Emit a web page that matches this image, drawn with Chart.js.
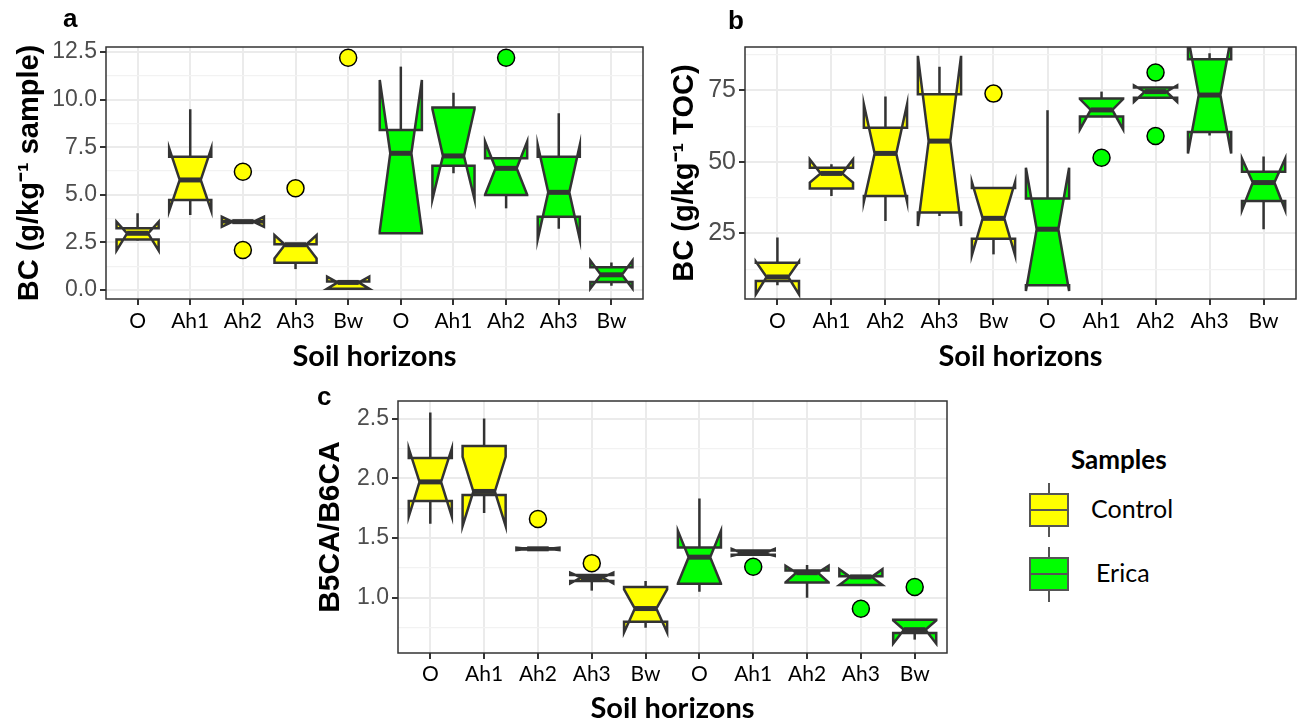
<!DOCTYPE html>
<html>
<head>
<meta charset="utf-8">
<script src="https://cdn.jsdelivr.net/npm/chart.js@4.4.1/dist/chart.umd.min.js"></script>
<style>
  body { margin: 0; background: #fff; }
  #wrap { position: relative; width: 1306px; height: 726px; overflow: hidden; background: #fff; }
  canvas { position: absolute; }
  .plab { position: absolute; font-family: "Liberation Sans", Arial, sans-serif; font-weight: bold; font-size: 26px; line-height: 26px; color: #000; }
  .leg { position: absolute; font-family: Lato, "Open Sans", sans-serif; color: #000; }
  .key { position: absolute; width: 40px; height: 34px; box-sizing: border-box; border: 2px solid #555; }
  .kw { position: absolute; width: 2px; background: #555; }
  .km { position: absolute; width: 40px; height: 2px; background: #555; }
</style>
</head>
<body>
<div id="wrap">
  <canvas id="ca" width="660" height="380" style="left:0px;top:0px;width:660px;height:380px"></canvas>
  <canvas id="cb" width="656" height="380" style="left:650px;top:0px;width:656px;height:380px"></canvas>
  <canvas id="cc" width="660" height="351" style="left:300px;top:375px;width:660px;height:351px"></canvas>

  <div class="plab" style="left:63px;top:5px">a</div>
  <div class="plab" style="left:728px;top:7px">b</div>
  <div class="plab" style="left:317px;top:383px">c</div>

  <div class="leg" style="left:1071px;top:443px;font-size:26px;font-weight:bold">Samples</div>
  <div class="kw" style="left:1048px;top:483px;height:54px"></div>
  <div class="key" style="left:1029px;top:493px;background:#ffff00"></div>
  <div class="km" style="left:1029px;top:509px"></div>
  <div class="leg" style="left:1091px;top:493px;font-size:25px">Control</div>
  <div class="kw" style="left:1048px;top:547px;height:55px"></div>
  <div class="key" style="left:1029px;top:557px;background:#00ff00"></div>
  <div class="km" style="left:1029px;top:573px"></div>
  <div class="leg" style="left:1096px;top:557px;font-size:25px">Erica</div>
</div>

<script>
// ---------- categories ----------
const horizons = ['O', 'Ah1', 'Ah2', 'Ah3', 'Bw'];
const groups = ['Control', 'Erica'];
const xLabels = horizons.concat(horizons);        // Control O..Bw, Erica O..Bw
const groupOfBox = [0, 0, 0, 0, 0, 1, 1, 1, 1, 1];

// ---------- panel a : BC (g/kg sample) ----------
const aWhiskerLow  = [2.60, 3.94, 3.56, 1.10, 0.07, 2.98, 6.13, 4.29, 3.22, 0.22];
const aHingeLow    = [2.66, 4.73, 3.56, 1.43, 0.07, 2.98, 6.53, 4.99, 3.85, 0.42];
const aMedian      = [2.98, 5.78, 3.59, 2.38, 0.40, 7.18, 7.04, 6.39, 5.13, 0.80];
const aHingeHigh   = [3.24, 7.00, 3.62, 2.40, 0.45, 8.40, 9.58, 6.92, 7.00, 1.20];
const aWhiskerHigh = [4.03, 9.49, 3.62, 2.40, 0.45, 11.73, 10.36, 6.92, 9.28, 1.45];
const aNotchLow    = [2.07, 4.15, 3.32, 1.66, 0.07, 3.10, 4.76, 5.00, 2.66, 0.08];
const aNotchHigh   = [3.59, 7.44, 3.85, 2.89, 0.70, 11.03, 9.50, 7.79, 7.62, 1.55];
const aOutlierBox  = [2, 2, 3, 4, 7];
const aOutlierVal  = [6.21, 2.10, 5.34, 12.2, 12.2];
const aTicks = [0, 2.5, 5, 7.5, 10, 12.5];

// ---------- panel b : BC (g/kg TOC) ----------
const bWhiskerLow  = [6.9, 38.1, 29.4, 31.1, 17.7, 6.9, 65.9, 72.5, 59.3, 26.5];
const bHingeLow    = [8.4, 40.7, 38.1, 32.3, 23.2, 6.9, 65.9, 72.5, 60.5, 36.4];
const bMedian      = [9.8, 46.0, 53.0, 57.3, 30.3, 26.5, 68.2, 74.6, 73.4, 42.8];
const bHingeHigh   = [14.8, 48.0, 62.0, 73.7, 40.9, 37.2, 72.2, 76.0, 85.9, 46.6];
const bWhiskerHigh = [23.6, 49.2, 72.9, 83.3, 40.9, 68.1, 74.6, 76.0, 88.0, 51.9];
const bNotchLow    = [3.7, 42.8, 36.1, 27.6, 17.4, 4.9, 61.4, 71.0, 53.0, 33.2];
const bNotchHigh   = [15.2, 50.9, 70.2, 87.1, 43.0, 48.0, 72.0, 76.8, 93.8, 51.2];
const bOutlierBox  = [4, 6, 7, 7];
const bOutlierVal  = [73.9, 51.5, 81.3, 59.1];
const bTicks = [25, 50, 75];

// ---------- panel c : B5CA/B6CA ----------
const cWhiskerLow  = [1.62, 1.71, 1.405, 1.06, 0.75, 1.05, 1.36, 1.00, 1.108, 0.65];
const cHingeLow    = [1.81, 1.86, 1.405, 1.14, 0.80, 1.117, 1.36, 1.128, 1.108, 0.705];
const cMedian      = [1.97, 1.89, 1.41, 1.17, 0.91, 1.34, 1.373, 1.21, 1.175, 0.733];
const cHingeHigh   = [2.17, 2.27, 1.415, 1.19, 1.09, 1.42, 1.395, 1.228, 1.18, 0.816];
const cWhiskerHigh = [2.55, 2.50, 1.415, 1.19, 1.14, 1.83, 1.40, 1.275, 1.18, 0.816];
const cNotchLow    = [1.68, 1.60, 1.40, 1.12, 0.71, 1.12, 1.35, 1.13, 1.108, 0.616];
const cNotchHigh   = [2.25, 2.18, 1.42, 1.21, 1.07, 1.56, 1.41, 1.267, 1.24, 0.81];
const cOutlierBox  = [2, 3, 6, 8, 9];
const cOutlierVal  = [1.66, 1.29, 1.26, 0.908, 1.09];
const cTicks = [1.0, 1.5, 2.0, 2.5];

const groupColors = ['#ffff00', '#00ff00'];
const lineCol = '#333333';

function boxPlugin(st) {
  return {
    id: 'notchBoxes',
    beforeDatasetsDraw(chart) {
      const { ctx, chartArea: a, scales: { x, y } } = chart;
      ctx.save();
      ctx.beginPath();
      ctx.rect(a.left, a.top, a.right - a.left, a.bottom - a.top);
      ctx.clip();
      for (let i = 0; i < st.median.length; i++) {
        const cx = x.getPixelForValue(i);
        const hw = x.getPixelForValue(i + 0.4) - cx;
        const nw = hw * 0.5;
        const yWL = y.getPixelForValue(st.wl[i]), yHL = y.getPixelForValue(st.hl[i]);
        const yM = y.getPixelForValue(st.median[i]);
        const yHH = y.getPixelForValue(st.hh[i]), yWH = y.getPixelForValue(st.wh[i]);
        const yNL = y.getPixelForValue(st.nl[i]), yNH = y.getPixelForValue(st.nh[i]);
        ctx.strokeStyle = lineCol;
        ctx.lineWidth = 2.5;
        ctx.lineCap = 'butt';
        // whiskers
        ctx.beginPath();
        ctx.moveTo(cx, yHH); ctx.lineTo(cx, yWH);
        ctx.moveTo(cx, yHL); ctx.lineTo(cx, yWL);
        ctx.stroke();
        // notched box
        ctx.beginPath();
        ctx.moveTo(cx - hw, yHH);
        ctx.lineTo(cx - hw, yNH);
        ctx.lineTo(cx - nw, yM);
        ctx.lineTo(cx - hw, yNL);
        ctx.lineTo(cx - hw, yHL);
        ctx.lineTo(cx + hw, yHL);
        ctx.lineTo(cx + hw, yNL);
        ctx.lineTo(cx + nw, yM);
        ctx.lineTo(cx + hw, yNH);
        ctx.lineTo(cx + hw, yHH);
        ctx.closePath();
        ctx.fillStyle = groupColors[groupOfBox[i]];
        ctx.fill();
        ctx.lineJoin = 'miter';
        ctx.stroke();
        // median
        ctx.beginPath();
        ctx.lineWidth = 5;
        ctx.moveTo(cx - nw, yM); ctx.lineTo(cx + nw, yM);
        ctx.stroke();
      }
      ctx.restore();
    },
    afterDraw(chart) {
      const { ctx, chartArea: a } = chart;
      ctx.save();
      ctx.strokeStyle = '#333333';
      ctx.lineWidth = 1.5;
      ctx.strokeRect(a.left, a.top, a.right - a.left, a.bottom - a.top);
      ctx.restore();
    }
  };
}

function makePanel(id, st, P) {
  const majorStep = P.ticks[1] - P.ticks[0];
  const allY = [];
  for (let v = P.ticks[0] - majorStep; v <= P.ticks[P.ticks.length - 1] + majorStep + 1e-9; v += majorStep / 2) {
    if (v >= P.min - 1e-9 && v <= P.max + 1e-9) allY.push(+v.toFixed(4));
  }
  const isMajor = v => P.ticks.some(t => Math.abs(t - v) < 1e-6);
  const pts = P.outBox.map((b, k) => ({ x: b, y: P.outVal[k] }));
  new Chart(document.getElementById(id), {
    type: 'scatter',
    data: {
      datasets: [{
        data: pts,
        pointRadius: P.r,
        pointHoverRadius: P.r,
        pointBackgroundColor: P.outBox.map(b => groupColors[groupOfBox[b]]),
        pointBorderColor: '#000',
        pointBorderWidth: 1.5
      }]
    },
    options: {
      responsive: false,
      animation: false,
      devicePixelRatio: 1,
      layout: { padding: { top: P.padTop, right: P.padRight, left: 0, bottom: 0 } },
      plugins: { legend: { display: false }, tooltip: { enabled: false } },
      scales: {
        x: {
          type: 'linear', min: -0.6, max: 9.6,
          afterBuildTicks: s => { s.ticks = xLabels.map((c, i) => ({ value: i })); },
          afterFit: s => { s.height = P.xH; },
          ticks: {
            autoSkip: false, maxRotation: 0, padding: P.xTickPad, color: '#000',
            font: { family: 'Lato', size: 21 },
            callback: v => xLabels[Math.round(v)]
          },
          grid: { color: '#ebebeb', lineWidth: 2, tickLength: 6, tickColor: '#333', tickWidth: 2 },
          border: { display: false },
          title: {
            display: true, text: 'Soil horizons', color: '#000',
            font: { family: 'Lato', weight: 'bold', size: 29 },
            padding: { top: 0, bottom: P.xTitlePad }
          }
        },
        y: {
          type: 'linear', min: P.min, max: P.max,
          afterBuildTicks: s => { s.ticks = allY.map(v => ({ value: v })); },
          afterFit: s => { s.width = P.yW; },
          ticks: {
            autoSkip: false, padding: 3, color: '#4d4d4d',
            font: { family: 'Liberation Sans', size: P.yTickSize },
            callback: v => isMajor(v) ? P.fmt(v) : ''
          },
          grid: {
            color: c => isMajor(c.tick.value) ? '#ebebeb' : '#f2f2f2',
            lineWidth: c => isMajor(c.tick.value) ? 2 : 1.2,
            tickLength: 6,
            tickColor: c => isMajor(c.tick.value) ? '#333' : 'rgba(0,0,0,0)',
            tickWidth: 2
          },
          border: { display: false },
          title: {
            display: true, text: P.yTitle, color: '#000',
            font: { family: 'Liberation Sans', weight: 'bold', size: P.yTitleSize },
            padding: { top: P.yTitlePad, bottom: 0 }
          }
        }
      }
    },
    plugins: [boxPlugin(st)]
  });
}

makePanel('ca', {
  wl: aWhiskerLow, hl: aHingeLow, median: aMedian, hh: aHingeHigh, wh: aWhiskerHigh, nl: aNotchLow, nh: aNotchHigh
}, {
  ticks: aTicks, min: -0.47, max: 12.76, fmt: v => v.toFixed(1),
  outBox: aOutlierBox, outVal: aOutlierVal, r: 8.5,
  padTop: 47, padRight: 17, xH: 81, yW: 106, xTickPad: 4, xTitlePad: 6,
  yTickSize: 23, yTitle: 'BC (g/kg\u207B\u00B9 sample)', yTitleSize: 29, yTitlePad: 13
});

makePanel('cb', {
  wl: bWhiskerLow, hl: bHingeLow, median: bMedian, hh: bHingeHigh, wh: bWhiskerHigh, nl: bNotchLow, nh: bNotchHigh
}, {
  ticks: bTicks, min: 2.1, max: 90.2, fmt: v => v.toFixed(0),
  outBox: bOutlierBox, outVal: bOutlierVal, r: 8.5,
  padTop: 47, padRight: 5, xH: 81, yW: 95, xTickPad: 4, xTitlePad: 6,
  yTickSize: 25, yTitle: 'BC (g/kg\u207B\u00B9 TOC)', yTitleSize: 29, yTitlePad: 18
});

makePanel('cc', {
  wl: cWhiskerLow, hl: cHingeLow, median: cMedian, hh: cHingeHigh, wh: cWhiskerHigh, nl: cNotchLow, nh: cNotchHigh
}, {
  ticks: cTicks, min: 0.538, max: 2.647, fmt: v => v.toFixed(1),
  outBox: cOutlierBox, outVal: cOutlierVal, r: 8.5,
  padTop: 26, padRight: 13, xH: 73, yW: 98, xTickPad: 3, xTitlePad: 0,
  yTickSize: 23, yTitle: 'B5CA/B6CA', yTitleSize: 30, yTitlePad: 13
});
</script>
</body>
</html>
